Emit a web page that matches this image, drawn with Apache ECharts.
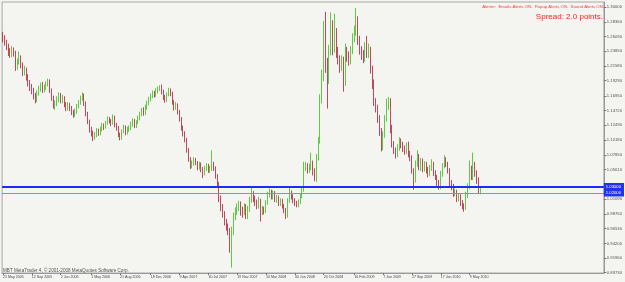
<!DOCTYPE html>
<html><head><meta charset="utf-8">
<script src="https://cdn.jsdelivr.net/npm/echarts@6/dist/echarts.min.js"></script>
<style>html,body{margin:0;padding:0;background:#f4f4f1}#c{width:625px;height:282px}</style>
</head><body><div id="c"></div><script>
// weekly bars, first bar = week of 22 May 2005
const slotCount = 334;
const tickBars = [0,16,32,49,65,82,98,114,130,146,162,178,195,211,227,243,259];
const tickLabels = ['21 May 2005','12 Sep 2005','2 Jan 2006','1 May 2006','21 Aug 2006','18 Dec 2006','9 Apr 2007','30 Jul 2007','19 Nov 2007','10 Mar 2008','30 Jun 2008','20 Oct 2008','16 Feb 2009','7 Jun 2009','27 Sep 2009','17 Jan 2010','9 May 2010'];
const yTicks = [1.30600,1.28360,1.26090,1.23850,1.21580,1.19290,1.16950,1.14720,1.12490,1.10180,1.07850,1.05610,1.01090,0.98760,0.96530,0.94200,0.91960,0.89730];

const opens = [
1.262,1.258,1.252,1.246,1.238,1.232,1.240,1.236,1.214,1.222,
1.228,1.218,1.205,1.210,1.198,1.190,1.183,1.178,1.170,1.163,
1.174,1.180,1.186,1.178,1.183,1.188,1.192,1.178,1.166,1.155,
1.158,1.165,1.171,1.162,1.167,1.156,1.150,1.156,1.151,1.144,
1.140,1.146,1.153,1.160,1.166,1.170,1.158,1.142,1.130,1.118,
1.112,1.106,1.110,1.116,1.112,1.118,1.124,1.122,1.128,1.134,
1.131,1.128,1.137,1.125,1.120,1.110,1.105,1.115,1.121,1.113,
1.118,1.120,1.126,1.131,1.124,1.129,1.136,1.141,1.148,1.143,
1.152,1.158,1.165,1.170,1.174,1.171,1.177,1.181,1.184,1.176,
1.167,1.163,1.172,1.178,1.173,1.160,1.151,1.156,1.145,1.134,
1.120,1.112,1.102,1.086,1.072,1.062,1.066,1.071,1.067,1.060,
1.064,1.057,1.050,1.058,1.062,1.055,1.058,1.064,1.058,1.046,
1.034,1.012,0.998,0.988,0.976,0.968,0.962,0.935,0.962,0.984,
0.992,0.998,1.004,0.993,0.990,1.000,0.986,0.996,1.010,1.019,
1.012,1.006,1.000,1.008,0.990,0.996,0.992,1.005,1.018,1.022,
1.014,1.020,1.010,1.013,1.004,1.009,1.000,0.994,0.984,1.008,
1.020,1.014,1.008,1.004,1.001,1.006,1.015,1.026,1.060,1.063,
1.056,1.060,1.066,1.052,1.041,1.075,1.100,1.165,1.200,1.275,
1.215,1.195,1.240,1.280,1.240,1.265,1.235,1.225,1.215,1.225,
1.190,1.235,1.230,1.225,1.240,1.260,1.270,1.285,1.255,1.240,
1.232,1.228,1.245,1.235,1.240,1.210,1.190,1.160,1.150,1.135,
1.115,1.092,1.110,1.135,1.155,1.160,1.120,1.095,1.085,1.078,
1.090,1.100,1.095,1.088,1.085,1.096,1.080,1.075,1.055,1.040,
1.065,1.075,1.060,1.070,1.058,1.065,1.055,1.050,1.058,1.065,
1.050,1.045,1.035,1.030,1.050,1.062,1.070,1.065,1.055,1.035,
1.030,1.020,1.022,1.012,1.015,1.005,1.000,0.998,1.018,1.030,
1.055,1.045,1.065,1.050,1.040,1.022];

const closes = [
1.258,1.252,1.246,1.238,1.232,1.240,1.236,1.214,1.222,1.228,
1.218,1.205,1.210,1.198,1.190,1.183,1.178,1.170,1.163,1.174,
1.180,1.186,1.178,1.183,1.188,1.192,1.178,1.166,1.155,1.158,
1.165,1.171,1.162,1.167,1.156,1.150,1.156,1.151,1.144,1.140,
1.146,1.153,1.160,1.166,1.170,1.158,1.142,1.130,1.118,1.112,
1.106,1.110,1.116,1.112,1.118,1.124,1.122,1.128,1.134,1.131,
1.128,1.137,1.125,1.120,1.110,1.105,1.115,1.121,1.113,1.118,
1.120,1.126,1.131,1.124,1.129,1.136,1.141,1.148,1.143,1.152,
1.158,1.165,1.170,1.174,1.171,1.177,1.181,1.184,1.176,1.167,
1.163,1.172,1.178,1.173,1.160,1.151,1.156,1.145,1.134,1.120,
1.112,1.102,1.086,1.072,1.062,1.066,1.071,1.067,1.060,1.064,
1.057,1.050,1.058,1.062,1.055,1.058,1.064,1.058,1.046,1.034,
1.012,0.998,0.988,0.976,0.968,0.962,0.935,0.962,0.984,0.992,
0.998,1.004,0.993,0.990,1.000,0.986,0.996,1.010,1.019,1.012,
1.006,1.000,1.008,0.990,0.996,0.992,1.005,1.018,1.022,1.014,
1.020,1.010,1.013,1.004,1.009,1.000,0.994,0.984,1.008,1.020,
1.014,1.008,1.004,1.001,1.006,1.015,1.026,1.060,1.063,1.056,
1.060,1.066,1.052,1.041,1.075,1.100,1.165,1.200,1.275,1.215,
1.195,1.240,1.280,1.240,1.265,1.235,1.225,1.215,1.225,1.190,
1.235,1.230,1.225,1.240,1.260,1.270,1.285,1.255,1.240,1.232,
1.228,1.245,1.235,1.240,1.210,1.190,1.160,1.150,1.135,1.115,
1.092,1.110,1.135,1.155,1.160,1.120,1.095,1.085,1.078,1.090,
1.100,1.095,1.088,1.085,1.096,1.080,1.075,1.055,1.040,1.065,
1.075,1.060,1.070,1.058,1.065,1.055,1.050,1.058,1.065,1.050,
1.045,1.035,1.030,1.050,1.062,1.070,1.065,1.055,1.035,1.030,
1.020,1.022,1.012,1.015,1.005,1.000,0.998,1.018,1.030,1.055,
1.045,1.065,1.050,1.040,1.025,1.026];

const lows = [
1.252,1.247,1.240,1.231,1.228,1.229,1.230,1.208,1.210,1.218,
1.212,1.200,1.201,1.193,1.184,1.177,1.172,1.164,1.158,1.160,
1.170,1.176,1.174,1.175,1.179,1.184,1.174,1.162,1.150,1.148,
1.154,1.160,1.158,1.158,1.152,1.146,1.147,1.146,1.140,1.136,
1.137,1.142,1.150,1.156,1.162,1.154,1.138,1.126,1.113,1.107,
1.100,1.102,1.106,1.108,1.109,1.115,1.117,1.119,1.125,1.127,
1.123,1.125,1.121,1.116,1.106,1.101,1.102,1.112,1.109,1.110,
1.114,1.117,1.122,1.120,1.120,1.126,1.132,1.138,1.139,1.140,
1.148,1.155,1.161,1.166,1.167,1.168,1.173,1.177,1.172,1.163,
1.159,1.160,1.169,1.169,1.156,1.147,1.148,1.141,1.130,1.116,
1.107,1.098,1.082,1.068,1.057,1.058,1.062,1.063,1.055,1.056,
1.052,1.043,1.047,1.054,1.051,1.051,1.054,1.054,1.042,1.029,
1.006,0.992,0.982,0.970,0.962,0.955,0.928,0.905,0.955,0.978,
0.986,0.992,0.985,0.982,0.986,0.980,0.980,0.991,1.005,1.006,
1.000,0.995,0.996,0.976,0.986,0.987,0.989,1.002,1.013,1.010,
1.010,1.006,1.005,1.000,1.000,0.996,0.989,0.980,0.982,1.005,
1.010,1.004,1.000,0.998,0.998,1.003,1.012,1.022,1.054,1.050,
1.051,1.055,1.047,1.038,1.037,1.070,1.096,1.158,1.192,1.205,
1.150,1.188,1.232,1.232,1.236,1.228,1.218,1.205,1.208,1.176,
1.185,1.222,1.216,1.218,1.234,1.252,1.262,1.248,1.233,1.225,
1.220,1.222,1.228,1.228,1.204,1.180,1.154,1.144,1.128,1.108,
1.084,1.086,1.105,1.130,1.148,1.112,1.090,1.080,1.073,1.075,
1.085,1.089,1.083,1.079,1.080,1.075,1.069,1.050,1.025,1.036,
1.060,1.055,1.054,1.052,1.053,1.050,1.044,1.046,1.054,1.046,
1.040,1.030,1.025,1.026,1.045,1.058,1.060,1.050,1.030,1.024,
1.014,1.015,1.006,1.007,1.000,0.995,0.991,0.994,1.012,1.026,
1.040,1.040,1.045,1.034,1.019,1.018];

const highs = [
1.268,1.263,1.256,1.250,1.243,1.246,1.244,1.239,1.227,1.238,
1.232,1.221,1.216,1.213,1.203,1.194,1.188,1.182,1.174,1.178,
1.185,1.190,1.191,1.187,1.192,1.196,1.195,1.181,1.170,1.163,
1.169,1.175,1.174,1.171,1.169,1.160,1.160,1.159,1.154,1.148,
1.150,1.157,1.163,1.170,1.175,1.173,1.161,1.145,1.133,1.122,
1.116,1.114,1.120,1.119,1.122,1.128,1.127,1.131,1.138,1.137,
1.134,1.141,1.139,1.128,1.123,1.113,1.118,1.125,1.124,1.122,
1.124,1.130,1.135,1.134,1.132,1.139,1.145,1.151,1.152,1.156,
1.162,1.168,1.173,1.178,1.177,1.181,1.184,1.186,1.187,1.179,
1.171,1.175,1.182,1.181,1.176,1.163,1.160,1.158,1.148,1.137,
1.124,1.115,1.105,1.089,1.075,1.070,1.075,1.074,1.069,1.068,
1.067,1.060,1.062,1.066,1.065,1.062,1.086,1.068,1.061,1.049,
1.037,1.016,1.003,0.992,0.980,0.973,0.966,0.968,0.990,0.998,
1.004,1.008,1.007,0.999,1.004,1.003,1.000,1.014,1.029,1.023,
1.016,1.010,1.014,1.011,1.000,0.999,1.009,1.022,1.027,1.025,
1.024,1.023,1.017,1.016,1.012,1.011,1.003,0.997,1.012,1.029,
1.024,1.018,1.012,1.008,1.010,1.019,1.030,1.068,1.068,1.066,
1.065,1.082,1.070,1.058,1.080,1.106,1.172,1.210,1.285,1.299,
1.228,1.248,1.298,1.286,1.296,1.274,1.245,1.232,1.232,1.230,
1.250,1.245,1.238,1.246,1.266,1.278,1.305,1.292,1.262,1.246,
1.240,1.252,1.262,1.250,1.245,1.216,1.195,1.166,1.156,1.140,
1.120,1.115,1.140,1.165,1.168,1.166,1.125,1.100,1.090,1.095,
1.106,1.104,1.099,1.093,1.098,1.099,1.085,1.078,1.058,1.070,
1.086,1.080,1.074,1.073,1.069,1.068,1.060,1.063,1.072,1.068,
1.055,1.048,1.040,1.054,1.066,1.078,1.075,1.068,1.058,1.040,
1.034,1.027,1.025,1.019,1.018,1.009,1.004,1.022,1.035,1.070,
1.062,1.082,1.068,1.055,1.044,1.029];

const levelValues = [1.0305, 1.0236, 1.0213];
const levelColors = ['#1c2cff', '#3a48ff', '#c08a4a'];
const levelWidths = [2, 1, 1];

const tickSet = new Map(tickBars.map((b, k) => [b, tickLabels[k]]));
const categories = Array.from({length: slotCount}, (_, i) => String(i));
const candleData = closes.map((c, i) => [opens[i], c, lows[i], highs[i]]);

const chart = echarts.init(document.getElementById('c'), null, {renderer: 'canvas'});
const FONT = 'Liberation Sans';
chart.setOption({
  animation: false,
  backgroundColor: '#f4f4f1',
  textStyle: {fontFamily: FONT},
  grid: {left: 1, right: 18, top: 2, bottom: 9, show: true, borderColor: '#a8a8a8', borderWidth: 1, backgroundColor: 'transparent'},
  xAxis: {
    type: 'category', data: categories, boundaryGap: true,
    axisLine: {show: true, lineStyle: {color: '#9a9a9a', width: 1}},
    axisTick: {show: true, alignWithLabel: true, length: 2, interval: (i) => tickSet.has(i), lineStyle: {color: '#777'}},
    axisLabel: {show: true, interval: (i) => tickSet.has(i), formatter: (v, i) => tickSet.get(Number(v)) || '', fontSize: 3.6, color: '#444', align: 'left', margin: 1.5, fontFamily: FONT},
    splitLine: {show: false}
  },
  yAxis: {
    type: 'value', position: 'right', min: 0.8968, max: 1.3141, scale: true,
    axisLine: {show: true, lineStyle: {color: '#9a9a9a', width: 1}},
    axisTick: {show: true, length: 2.5, customValues: yTicks, lineStyle: {color: '#777'}},
    axisLabel: {show: true, customValues: yTicks, formatter: (v) => v.toFixed(5), fontSize: 4.2, color: '#555', margin: 3, fontFamily: FONT},
    splitLine: {show: false}
  },
  series: [{
    type: 'candlestick',
    data: candleData,
    barWidth: 1.2,
    itemStyle: {color: '#38c015', color0: '#b41a38', borderColor: '#38c015', borderColor0: '#b41a38', borderWidth: 0.8},
    markLine: {
      silent: true, symbol: 'none', animation: false,
      data: levelValues.map((v, k) => ({
        yAxis: v,
        lineStyle: {color: levelColors[k], width: levelWidths[k], type: 'solid'},
        label: k === 2 ? {show: false} : {show: true, position: 'end', distance: 0, formatter: (p) => p.value.toFixed(5), backgroundColor: '#2233ee', color: '#ffffff', fontSize: 4.2, padding: [1.5, 3, 1.5, 2], fontFamily: FONT}
      }))
    }
  }],
  graphic: [
    {type: 'text', right: 21, top: 4.5, style: {text: 'Alerter:  Emails Alerts ON.  Popup Alerts ON.  Sound Alerts ON.', fill: '#ff3b3b', font: '4.3px ' + FONT}},
    {type: 'text', right: 22, top: 13, style: {text: 'Spread: 2.0 points.', fill: '#ff2222', font: '8px ' + FONT}},
    {type: 'text', left: 3, top: 268, style: {text: 'MBT MetaTrader 4, \u00a9 2001-2008 MetaQuotes Software Corp.', fill: '#555555', font: '4.6px ' + FONT}}
  ]
});
</script></body></html>
